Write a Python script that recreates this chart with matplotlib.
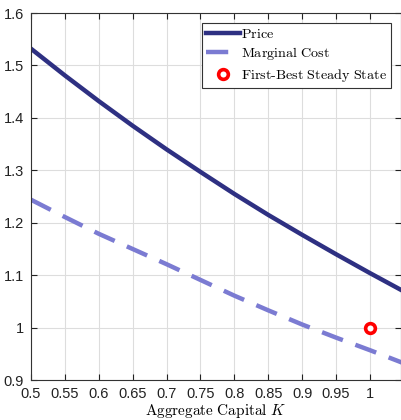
import matplotlib
matplotlib.use("Agg")
from matplotlib import pyplot as plt

plt.rcParams['mathtext.fontset'] = 'cm'
plt.rcParams['font.family'] = ['Liberation Sans', 'DejaVu Sans']

# aggregate capital grid and the two curves
capital = [0.5, 0.55, 0.6, 0.65, 0.7, 0.75, 0.8, 0.85, 0.9, 0.95, 1.0, 1.05]
price = [1.532, 1.481, 1.432, 1.385, 1.340, 1.297, 1.255, 1.215, 1.177, 1.140, 1.104, 1.069]
marginal_cost = [1.244, 1.211, 1.179, 1.150, 1.121, 1.091, 1.061, 1.033, 1.006, 0.981, 0.957, 0.932]

# first-best steady state
ss_k = [1.0]
ss_p = [1.0]

xticks = [0.5, 0.55, 0.6, 0.65, 0.7, 0.75, 0.8, 0.85, 0.9, 0.95, 1]
xticklabels = ['0.5', '0.55', '0.6', '0.65', '0.7', '0.75', '0.8', '0.85', '0.9', '0.95', '1']
yticks = [0.9, 1.0, 1.1, 1.2, 1.3, 1.4, 1.5, 1.6]
yticklabels = ['0.9', '1', '1.1', '1.2', '1.3', '1.4', '1.5', '1.6']

fig = plt.figure(figsize=(4.02, 4.2), dpi=100)
ax = fig.add_axes([0.077, 0.095, 0.921, 0.874])

ax.plot(capital, price, '-', color='#2e3082', lw=3.2, label=r'$\mathrm{Price}$')
ax.plot(capital, marginal_cost, '--', color='#7b7bd2', lw=3.2, dashes=(5, 3),
        label=r'$\mathrm{Marginal\ Cost}$')
ax.plot(ss_k, ss_p, 'o', color='red', mfc='white', mec='red', mew=2.6, ms=7,
        label=r'$\mathrm{First\text{-}Best\ Steady\ State}$')

ax.set_xlim(0.5, 1.046)
ax.set_ylim(0.9, 1.6)
ax.set_xticks(xticks)
ax.set_xticklabels(xticklabels)
ax.set_yticks(yticks)
ax.set_yticklabels(yticklabels)
ax.tick_params(direction='in', length=4, labelsize=10.5, colors='#222222',
               top=True, right=True, pad=5)
ax.grid(True, color='#dddddd', lw=0.8)
ax.set_axisbelow(True)
for s in ax.spines.values():
    s.set_color('#333333')
    s.set_linewidth(0.8)

ax.set_xlabel(r'$\mathrm{Aggregate\ Capital}\ K$', fontsize=11, labelpad=1)

leg = ax.legend(loc='upper right', bbox_to_anchor=(0.985, 0.985), fontsize=10.2,
                fancybox=False, framealpha=1, edgecolor='#333333',
                handlelength=2.4, handletextpad=0.1, borderpad=0.3,
                labelspacing=0.3, borderaxespad=0.3)
leg.get_frame().set_linewidth(0.8)

plt.savefig("out.png", dpi=100)
